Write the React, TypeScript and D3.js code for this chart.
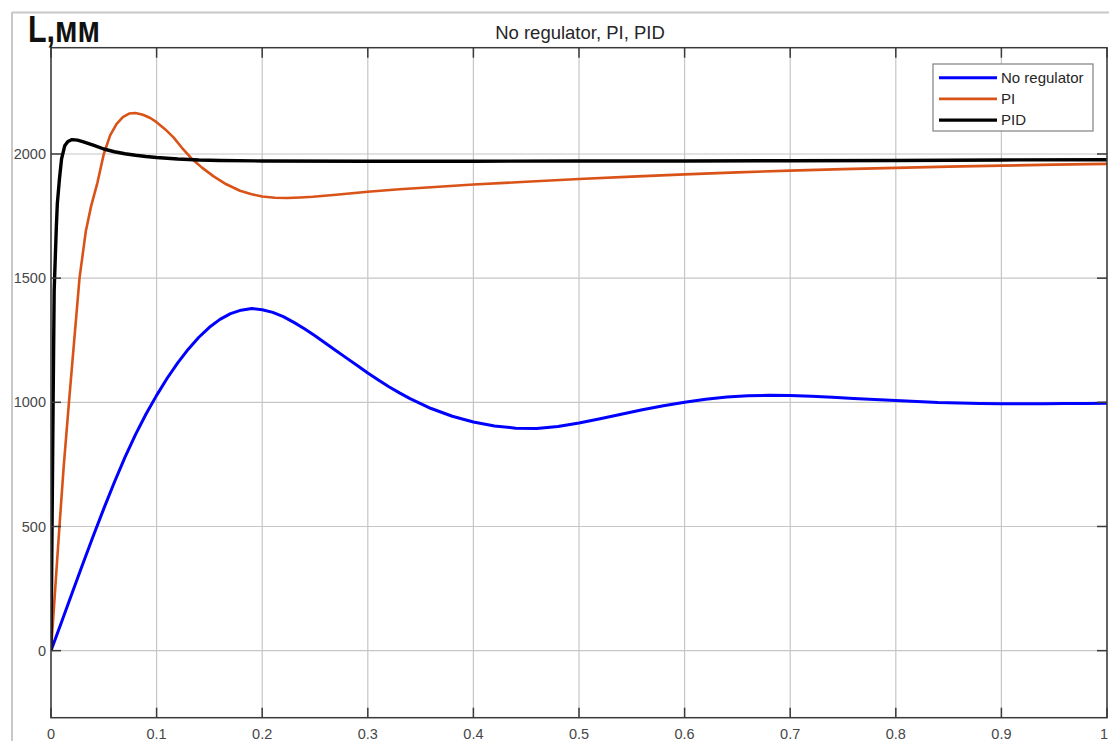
import React from 'react';
import * as d3 from 'd3';

// series (time in s, level in mm)
const noRegT = [0, 0.01, 0.02, 0.03, 0.04, 0.05, 0.06, 0.07, 0.08, 0.09, 0.1, 0.11, 0.12, 0.13, 0.14, 0.15, 0.16, 0.17, 0.18, 0.19, 0.2, 0.21, 0.22, 0.23, 0.24, 0.25, 0.26, 0.27, 0.28, 0.29, 0.3, 0.31, 0.32, 0.33, 0.34, 0.36, 0.38, 0.4, 0.42, 0.44, 0.46, 0.48, 0.5, 0.52, 0.54, 0.56, 0.58, 0.6, 0.62, 0.64, 0.66, 0.68, 0.7, 0.72, 0.74, 0.76, 0.78, 0.8, 0.82, 0.84, 0.86, 0.88, 0.9, 0.92, 0.94, 0.96, 0.98, 1.0];
const noRegL = [0, 115, 232, 348, 462, 572, 678, 778, 870, 953, 1028, 1097, 1159, 1214, 1262, 1302, 1334, 1357, 1371, 1378, 1373, 1362, 1345, 1322, 1296, 1268, 1238, 1208, 1178, 1148, 1118, 1090, 1063, 1038, 1015, 975, 944, 921, 905, 896, 895, 903, 917, 934, 952, 970, 986, 1000, 1012, 1021, 1026, 1028, 1027, 1024, 1020, 1015, 1011, 1007, 1003, 999, 997, 995, 994, 994, 994, 995, 995, 996];

const piT = [0, 0.004, 0.008, 0.012, 0.017, 0.022, 0.027, 0.033, 0.038, 0.044, 0.05, 0.056, 0.062, 0.068, 0.074, 0.08, 0.087, 0.094, 0.1, 0.108, 0.116, 0.124, 0.133, 0.143, 0.154, 0.166, 0.179, 0.19, 0.2, 0.212, 0.224, 0.236, 0.248, 0.27, 0.3, 0.33, 0.36, 0.4, 0.45, 0.5, 0.55, 0.6, 0.65, 0.7, 0.75, 0.8, 0.85, 0.9, 0.95, 1.0];
const piL = [0, 250, 500, 740, 1000, 1250, 1500, 1690, 1790, 1885, 2000, 2075, 2120, 2148, 2163, 2165, 2158, 2145, 2128, 2100, 2067, 2025, 1982, 1945, 1910, 1878, 1852, 1838, 1829, 1824, 1823, 1825, 1828, 1836, 1848, 1858, 1866, 1877, 1888, 1899, 1909, 1918, 1926, 1933, 1939, 1944, 1949, 1953, 1957, 1960];

const pidT = [0, 0.001, 0.002, 0.003, 0.005, 0.006, 0.008, 0.01, 0.013, 0.016, 0.02, 0.025, 0.03, 0.04, 0.05, 0.06, 0.07, 0.08, 0.09, 0.1, 0.12, 0.14, 0.16, 0.2, 0.3, 0.4, 0.5, 0.6, 0.7, 0.8, 0.9, 1.0];
const pidL = [0, 500, 1000, 1450, 1700, 1800, 1900, 1980, 2033, 2050, 2058, 2056, 2050, 2036, 2020, 2009, 2001, 1995, 1990, 1986, 1980, 1976, 1974, 1972, 1971, 1971, 1972, 1972, 1973, 1974, 1976, 1977];

const xTicks = [0, 0.1, 0.2, 0.3, 0.4, 0.5, 0.6, 0.7, 0.8, 0.9, 1];
const xTickLabels = ['0', '0.1', '0.2', '0.3', '0.4', '0.5', '0.6', '0.7', '0.8', '0.9', '1'];
const yTicks = [0, 500, 1000, 1500, 2000];
const seriesNames = ['No regulator', 'PI', 'PID'];
const seriesColors = ['#0000ff', '#d95319', '#000000'];
const seriesWidths = [3, 2.6, 3.4];

const W = 1109;
const H = 741;
const plot = { left: 51, right: 1107, top: 47.7, bottom: 717.7 };

export default function App() {
  const x = d3.scaleLinear().domain([0, 1]).range([plot.left, plot.right]);
  const y = d3.scaleLinear().domain([-270, 2428]).range([plot.bottom, plot.top]);

  const line = d3.line<[number, number]>().x(d => x(d[0])).y(d => y(d[1]));
  const series = [
    noRegT.map((t, i) => [t, noRegL[i]] as [number, number]),
    piT.map((t, i) => [t, piL[i]] as [number, number]),
    pidT.map((t, i) => [t, pidL[i]] as [number, number]),
  ];

  const font = '"Liberation Sans", Arial, sans-serif';
  const axisColor = '#3a3a3a';
  const gridColor = '#c6c6c6';
  const tickLen = 10;

  return (
    <svg width={W} height={H} style={{ position: 'absolute', left: 0, top: 0, display: 'block', background: '#fff' }}>
      {/* window frame remnants */}
      <line x1={12} x2={W} y1={12.5} y2={12.5} stroke="#c8c8c8" strokeWidth={2} />
      <line x1={12} x2={12} y1={12} y2={H} stroke="#c8c8c8" strokeWidth={2} />

      <defs>
        <clipPath id="plotClip">
          <rect x={plot.left} y={plot.top} width={plot.right - plot.left} height={plot.bottom - plot.top} />
        </clipPath>
      </defs>

      {/* grid */}
      <g stroke={gridColor} strokeWidth={1.2}>
        {xTicks.map(t => (
          <line key={'gx' + t} x1={x(t)} x2={x(t)} y1={plot.top} y2={plot.bottom} />
        ))}
        {yTicks.map(v => (
          <line key={'gy' + v} x1={plot.left} x2={plot.right} y1={y(v)} y2={y(v)} />
        ))}
      </g>

      {/* curves */}
      <g clipPath="url(#plotClip)" fill="none" strokeLinejoin="round">
        {series.map((s, i) => (
          <path key={seriesNames[i]} d={line(s) || ''} stroke={seriesColors[i]} strokeWidth={seriesWidths[i]} />
        ))}
      </g>

      {/* axes box and ticks */}
      <g stroke={axisColor} strokeWidth={1.5} fill="none">
        <rect x={plot.left} y={plot.top} width={plot.right - plot.left} height={plot.bottom - plot.top} />
        {xTicks.map(t => (
          <g key={'tx' + t}>
            <line x1={x(t)} x2={x(t)} y1={plot.bottom} y2={plot.bottom - tickLen} />
            <line x1={x(t)} x2={x(t)} y1={plot.top} y2={plot.top + tickLen} />
          </g>
        ))}
        {yTicks.map(v => (
          <g key={'ty' + v}>
            <line x1={plot.left} x2={plot.left + tickLen} y1={y(v)} y2={y(v)} />
            <line x1={plot.right} x2={plot.right - tickLen} y1={y(v)} y2={y(v)} />
          </g>
        ))}
      </g>

      {/* tick labels */}
      <g fontFamily={font} fontSize={14.5} fill="#474747">
        {xTicks.map((t, i) => (
          <text key={'lx' + t} x={Math.min(x(t), W - 5)} y={739} textAnchor="middle">{xTickLabels[i]}</text>
        ))}
        {yTicks.map(v => (
          <text key={'ly' + v} x={46} y={y(v)} dy="0.35em" textAnchor="end">{v}</text>
        ))}
      </g>

      {/* title and unit label */}
      <text x={580} y={39} textAnchor="middle" fontFamily={font} fontSize={18.5} fill="#262626">No regulator, PI, PID</text>
      <text x={28} y={42} fontFamily={font} fontWeight="bold" fontSize={36} fill="#111" textLength={72} lengthAdjust="spacingAndGlyphs">L,мм</text>

      {/* legend */}
      <g>
        <rect x={933} y={64} width={160} height={67} fill="#fff" stroke="#808080" strokeWidth={1.2} />
        {seriesNames.map((name, i) => {
          const ly = 77.7 + i * 21.2;
          return (
            <g key={'lg' + name}>
              <line x1={939} x2={997} y1={ly} y2={ly} stroke={seriesColors[i]} strokeWidth={seriesWidths[i]} />
              <text x={1001} y={ly} dy="0.35em" fontFamily={font} fontSize={15} fill="#262626">{name}</text>
            </g>
          );
        })}
      </g>
    </svg>
  );
}
